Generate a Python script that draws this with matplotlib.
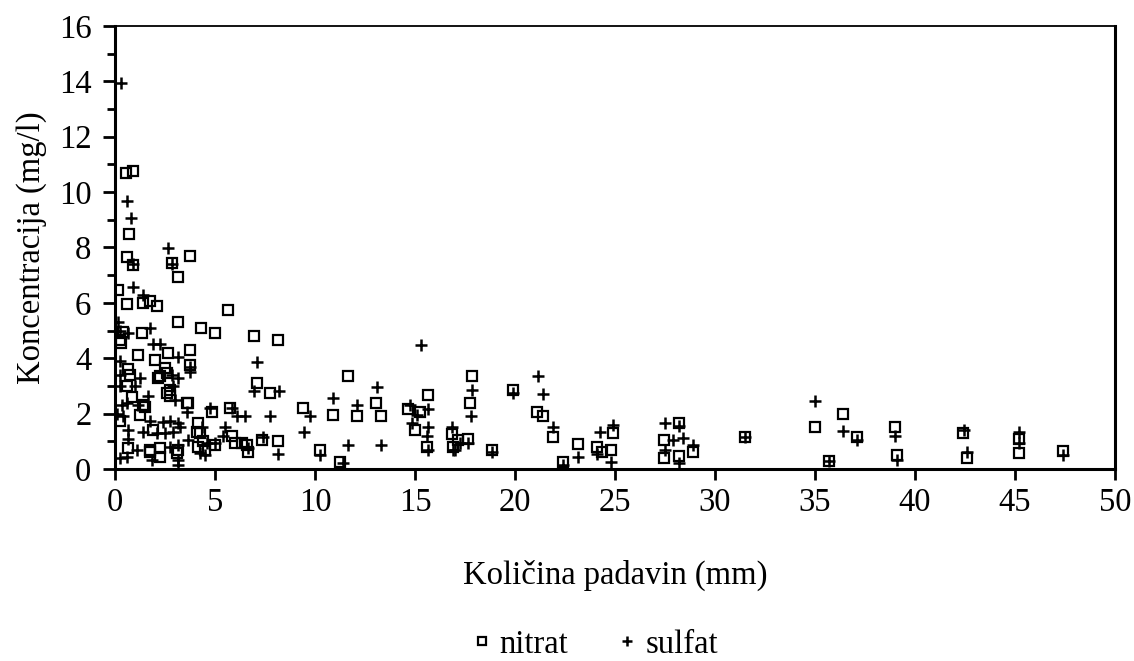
import matplotlib
matplotlib.use("Agg")
import matplotlib.pyplot as plt
from matplotlib.ticker import MultipleLocator

plt.rcParams['font.family'] = ['Liberation Serif', 'DejaVu Serif']

# Nitrat concentrations vs. precipitation amount
nitrat_x = [0.55, 0.9, 0.7, 0.6, 0.9, 2.85, 3.75, 3.15,
            0.15, 0.6, 1.4, 1.75, 2.1, 3.15, 4.3, 5.65, 5.0, 6.95, 8.15,
            0.4, 0.25, 0.3, 1.35, 2.65, 3.75, 1.15, 2.0, 3.75,
            0.65, 2.5, 0.75, 2.25, 2.6, 2.15, 0.6, 2.75, 0.85, 2.75, 3.65, 2.6,
            1.5, 1.4, 3.6, 1.25, 0.25, 4.15, 1.9, 4.1, 4.25,
            0.65, 1.75, 2.25, 2.25, 3.1, 3.15, 4.15, 1.75,
            4.85, 5.75, 4.4, 4.5, 5.0, 5.85, 6.0, 6.35, 6.6, 6.65, 7.35,
            7.1, 7.75, 8.15, 9.4, 10.25, 10.9, 11.65, 11.25, 12.1, 13.05, 13.3,
            15.65, 14.65, 15.25, 15.0, 15.6, 16.85, 16.9, 17.15, 17.65,
            17.85, 17.75, 18.85, 19.9, 21.1, 21.4, 21.9, 22.4, 23.15, 24.1, 24.35, 24.9, 24.8,
            27.45, 27.45, 28.2, 28.2, 28.9, 31.5, 35.0, 36.4, 37.1, 35.7,
            39.0, 39.1, 42.4, 42.6, 45.2, 45.2, 47.4]
nitrat_y = [10.7, 10.75, 8.5, 7.65, 7.35, 7.45, 7.7, 6.93,
            6.45, 5.95, 6.0, 6.05, 5.9, 5.3, 5.1, 5.75, 4.9, 4.8, 4.65,
            4.95, 4.65, 4.55, 4.9, 4.2, 4.3, 4.1, 3.95, 3.75,
            3.6, 3.65, 3.4, 3.35, 3.45, 3.3, 3.0, 2.85, 2.6, 2.65, 2.4, 2.75,
            2.25, 2.3, 2.4, 1.95, 1.75, 1.65, 1.4, 1.35, 1.3,
            0.75, 0.7, 0.75, 0.45, 0.57, 0.7, 0.8, 0.6,
            2.05, 2.2, 1.0, 0.7, 0.85, 1.2, 0.95, 0.95, 0.85, 0.6, 1.05,
            3.1, 2.75, 1.0, 2.2, 0.7, 1.95, 3.35, 0.25, 1.9, 2.4, 1.9,
            2.67, 2.15, 2.05, 1.4, 0.8, 1.25, 0.8, 1.05, 1.1,
            3.35, 2.4, 0.7, 2.85, 2.05, 1.9, 1.15, 0.25, 0.9, 0.8, 0.62, 1.3, 0.7,
            1.05, 0.4, 1.65, 0.47, 0.6, 1.15, 1.52, 1.98, 1.15, 0.3,
            1.5, 0.5, 1.3, 0.4, 1.1, 0.57, 0.65]

# Sulfat concentrations vs. precipitation amount
sulfat_x = [0.3, 0.6, 0.8, 0.9, 2.65, 2.85,
            0.9, 1.4, 0.15, 0.25, 0.65, 1.75, 1.9, 2.25, 3.15, 0.25, 3.75,
            7.1, 6.95, 8.2, 7.75, 8.15, 7.4,
            0.25, 1.25, 2.85, 3.15, 3.75, 0.25, 1.0, 2.9, 1.65, 3.0,
            0.35, 0.6, 0.1, 0.4, 1.15, 1.75, 2.4, 2.75, 3.15, 3.6,
            0.65, 0.65, 1.4, 2.1, 2.5, 2.9, 3.25, 3.65, 4.35,
            0.6, 0.25, 1.1, 1.85, 2.75, 3.15, 3.15, 3.15, 4.25,
            4.75, 5.85, 6.1, 6.5, 5.5, 5.4, 5.0, 4.6, 4.5, 6.65,
            9.75, 9.45, 10.25, 10.9, 11.4, 11.65, 12.1, 13.1, 13.3,
            15.3, 14.75, 15.1, 15.65, 14.85, 15.65, 15.6, 15.65,
            16.85, 16.9, 17.65, 17.25, 17.0,
            17.85, 17.8, 18.85, 19.9, 21.15, 21.4, 21.9, 22.4, 23.15, 24.25, 24.1, 24.9, 24.8,
            27.5, 28.2, 27.9, 28.4, 27.5, 28.2, 28.9, 31.5, 35.0, 36.4, 37.1, 35.7,
            39.0, 39.1, 42.45, 42.6, 45.2, 45.2, 47.4]
sulfat_y = [13.95, 9.67, 9.06, 7.4, 7.98, 7.4,
            6.57, 6.3, 5.3, 5.0, 4.9, 5.1, 4.5, 4.5, 4.05, 3.9, 3.7,
            3.85, 2.8, 2.8, 1.9, 0.55, 1.15,
            3.4, 3.3, 3.4, 3.3, 3.5, 3.0, 3.0, 3.0, 2.65, 2.5,
            2.3, 2.4, 2.0, 1.9, 2.3, 1.75, 1.7, 1.75, 1.65, 2.05,
            1.4, 1.1, 1.35, 1.3, 1.3, 1.35, 1.5, 1.05, 1.5,
            0.45, 0.4, 0.7, 0.32, 0.8, 0.87, 0.15, 0.32, 0.57,
            2.2, 2.2, 1.9, 1.9, 1.5, 1.2, 0.95, 0.95, 0.5, 0.75,
            1.9, 1.35, 0.5, 2.55, 0.2, 0.87, 2.3, 2.97, 0.87,
            4.47, 2.3, 1.95, 2.15, 1.65, 1.5, 1.2, 0.7,
            1.5, 0.7, 0.95, 0.95, 0.68,
            2.85, 1.9, 0.6, 2.75, 3.35, 2.7, 1.5, 0.15, 0.45, 1.35, 0.55, 1.6, 0.25,
            1.66, 1.55, 1.05, 1.12, 0.68, 0.2, 0.85, 1.15, 2.45, 1.37, 1.05, 0.3,
            1.2, 0.32, 1.4, 0.62, 1.35, 0.95, 0.5]

x_ticks = [0, 5, 10, 15, 20, 25, 30, 35, 40, 45, 50]
y_ticks = [0, 2, 4, 6, 8, 10, 12, 14, 16]

fig = plt.figure(figsize=(11.34, 6.61), dpi=100)
ax = fig.add_axes([0.1014, 0.2905, 0.8818, 0.6702])

ax.plot(nitrat_x, nitrat_y, linestyle='none', marker='s', ms=7,
        mfc='none', mec='black', mew=1.6, label='nitrat')
ax.plot(sulfat_x, sulfat_y, linestyle='none', marker='+', ms=9,
        mec='black', mew=1.8, label='sulfat')

ax.set_xlim(0, 50)
ax.set_ylim(0, 16)
ax.set_xticks(x_ticks)
ax.set_yticks(y_ticks)
ax.yaxis.set_minor_locator(MultipleLocator(1))

ax.tick_params(axis='both', which='major', direction='out', labelsize=23.5,
               width=2, color='black')
ax.tick_params(axis='x', which='major', length=8, pad=5)
ax.tick_params(axis='y', which='major', length=9, pad=8)
ax.tick_params(axis='y', which='minor', direction='out', length=6, width=2)

for side in ['left', 'bottom', 'right']:
    ax.spines[side].set_linewidth(2.2)
ax.spines['top'].set_linewidth(1.3)

ax.set_xlabel('Količina padavin (mm)', fontsize=23.5)
ax.set_ylabel('Koncentracija (mg/l)', fontsize=23.5)
ax.xaxis.set_label_coords(0.5, -0.205)
ax.yaxis.set_label_coords(-0.068, 0.5)

fig.legend(loc='center', bbox_to_anchor=(0.526, 0.025), ncol=2,
           frameon=False, fontsize=23.5, markerscale=0.85, handlelength=0.4,
           handletextpad=0.35, columnspacing=1.6, borderpad=0)

fig.savefig('out.png', dpi=100)
